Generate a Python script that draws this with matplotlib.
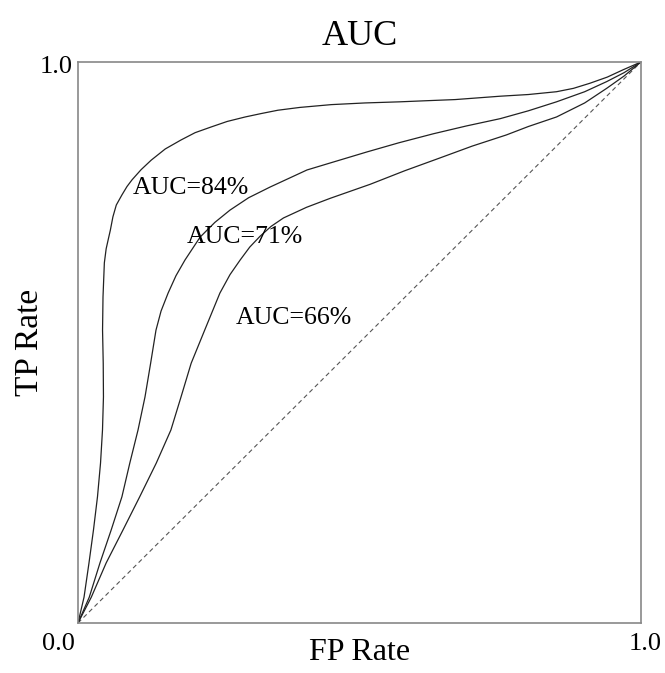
import numpy as np
import matplotlib
matplotlib.use('Agg')
import matplotlib.pyplot as plt

plt.rcParams['font.family'] = ['Liberation Serif', 'DejaVu Serif']

# ROC curves (FP rate, TP rate)
fpr_84 = [0, 0.0107, 0.0195, 0.0275, 0.0346, 0.040, 0.0435, 0.0452, 0.0448, 0.0436, 0.0444,
          0.0468, 0.050, 0.054, 0.0574, 0.062, 0.068, 0.078, 0.087, 0.096, 0.112, 0.130,
          0.155, 0.183, 0.208, 0.236, 0.265, 0.297, 0.325, 0.355, 0.394, 0.45, 0.51,
          0.572, 0.62, 0.67, 0.71, 0.750, 0.80, 0.850, 0.88, 0.909, 0.94, 0.968, 1]
tpr_84 = [0, 0.046, 0.107, 0.166, 0.225, 0.285, 0.344, 0.403, 0.463, 0.522, 0.581,
          0.642, 0.667, 0.685, 0.700, 0.724, 0.745, 0.763, 0.778, 0.790, 0.808, 0.825,
          0.845, 0.861, 0.874, 0.884, 0.894, 0.902, 0.908, 0.914, 0.919, 0.924, 0.927,
          0.929, 0.931, 0.933, 0.936, 0.939, 0.942, 0.947, 0.953, 0.962, 0.973, 0.986, 1]

fpr_71 = [0, 0.020, 0.039, 0.059, 0.078, 0.092, 0.1066, 0.119, 0.129, 0.1385, 0.1475, 0.160,
          0.174, 0.190, 0.217, 0.243, 0.270, 0.303, 0.341, 0.4067, 0.448, 0.513, 0.57,
          0.631, 0.69, 0.750, 0.80, 0.850, 0.90, 0.939, 0.97, 1]
tpr_71 = [0, 0.046, 0.107, 0.166, 0.225, 0.285, 0.344, 0.403, 0.463, 0.522, 0.556, 0.588,
          0.619, 0.647, 0.688, 0.714, 0.736, 0.758, 0.777, 0.8075, 0.820, 0.8396, 0.856,
          0.872, 0.886, 0.899, 0.913, 0.929, 0.947, 0.965, 0.981, 1]

fpr_66 = [0, 0.0236, 0.050, 0.080, 0.1096, 0.139, 0.165, 0.183, 0.201, 0.225, 0.252, 0.270,
          0.288, 0.305, 0.323, 0.343, 0.365, 0.406, 0.448, 0.519, 0.58, 0.643, 0.70,
          0.761, 0.80, 0.850, 0.90, 0.939, 0.97, 1]
tpr_66 = [0, 0.046, 0.107, 0.166, 0.225, 0.285, 0.344, 0.403, 0.463, 0.522, 0.588, 0.621,
          0.647, 0.670, 0.689, 0.707, 0.722, 0.741, 0.757, 0.782, 0.806, 0.829, 0.850,
          0.870, 0.885, 0.902, 0.927, 0.953, 0.975, 1]

labels = ['AUC=84%', 'AUC=71%', 'AUC=66%']
label_pos = [(0.0977, 0.775), (0.194, 0.688), (0.2806, 0.543)]

fig = plt.figure(figsize=(6.65, 6.73), dpi=100)
ax = fig.add_axes([0.1173, 0.0743, 0.8466, 0.8336])

ax.plot([0, 1], [0, 1], ls=(0, (4, 3)), color='#555555', lw=0.8)
for fx, ty in [(fpr_84, tpr_84), (fpr_71, tpr_71), (fpr_66, tpr_66)]:
    ax.plot(fx, ty, color='#222222', lw=0.9)

for lab, (lx, ly) in zip(labels, label_pos):
    ax.text(lx, ly, lab, fontsize=18.5, ha='left', va='center')

ax.set_xlim(0, 1)
ax.set_ylim(0, 1)
ax.set_xticks([])
ax.set_yticks([])
for s in ax.spines.values():
    s.set_color('#888888')
    s.set_linewidth(1.2)

# corner tick labels
ax.text(-0.005, -0.018, '0.0', fontsize=19, ha='right', va='top')
ax.text(1.007, -0.018, '1.0', fontsize=19, ha='center', va='top')
ax.text(-0.01, 0.991, '1.0', fontsize=19, ha='right', va='center')

ax.set_title('AUC', fontsize=26, pad=12)
ax.set_xlabel('FP Rate', fontsize=23, labelpad=11)
ax.set_ylabel('TP Rate', fontsize=24, labelpad=24)

fig.savefig('out.png', dpi=100)
